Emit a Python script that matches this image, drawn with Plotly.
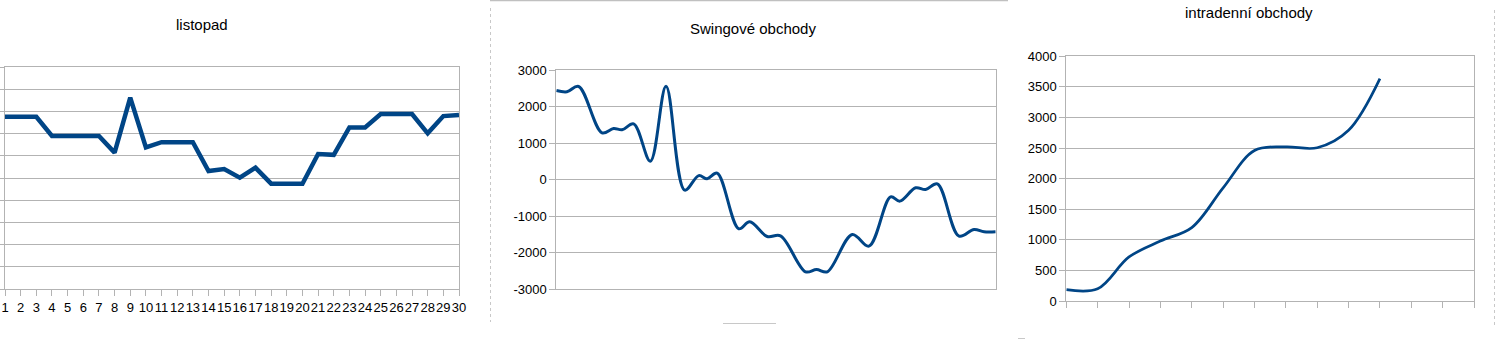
import plotly.graph_objects as go

# ---------------- data ----------------
# Panel 1: "listopad" (y axis labels are clipped in the source; values in grid units)
days = list(range(1, 31))
day_labels = [str(d) for d in days]
listopad_vals = [7.77, 7.77, 7.77, 6.90, 6.90, 6.90, 6.90, 6.15, 8.63, 6.39,
                 6.62, 6.62, 6.62, 5.32, 5.41, 5.02, 5.47, 4.75, 4.75, 4.75,
                 6.09, 6.05, 7.29, 7.29, 7.89, 7.89, 7.89, 7.02, 7.80, 7.85]

# Panel 2: "Swingové obchody"
swing_x = [0.0, 0.97, 2.03, 4.16, 5.22, 5.99, 7.04, 8.56, 9.99, 11.69,
           12.97, 13.73, 14.64, 16.61, 17.61, 19.2, 20.41, 22.69, 23.69, 24.67,
           26.94, 28.46, 30.43, 31.28, 32.71, 33.62, 34.69, 36.66, 38.03, 38.94, 40.0]
swing_vals = [2447, 2411, 2557, 1288, 1406, 1370, 1534, 511, 2566, -283,
              115, 27, 183, -1342, -1151, -1553, -1534, -2521, -2457, -2521,
              -1498, -1817, -466, -584, -219, -265, -110, -1543, -1361, -1425, -1425]
swing_ticks = [-3000, -2000, -1000, 0, 1000, 2000, 3000]
swing_ticktext = ["-3000", "-2000", "-1000", "0", "1000", "2000", "3000"]

# Panel 3: "intradenní obchody"
intra_cats = list(range(14))
intra_x = list(range(11))
intra_vals = [185, 200, 720, 980, 1200, 1850, 2460, 2520, 2505, 2790, 3635]
intra_ticks = [0, 500, 1000, 1500, 2000, 2500, 3000, 3500, 4000]
intra_ticktext = [str(v) for v in intra_ticks]

titles = ["listopad", "Swingové obchody", "intradenní obchody"]

# ---------------- style ----------------
W, H = 1500, 352
BLUE = "#004586"
GRID = "#b3b3b3"
TICKFONT = dict(family="Liberation Sans, Arial, sans-serif", size=13, color="#000000")
TITLEFONT = dict(family="Liberation Sans, Arial, sans-serif", size=15, color="#000000")


def px_x(x):
    return x / W


def px_y(y):
    return 1 - y / H


fig = go.Figure()

fig.add_trace(go.Scatter(x=days, y=listopad_vals, mode="lines",
                         line=dict(color=BLUE, width=4.5), xaxis="x", yaxis="y",
                         showlegend=False, hoverinfo="skip"))
fig.add_trace(go.Scatter(x=swing_x, y=swing_vals, mode="lines",
                         line=dict(color=BLUE, width=3, shape="spline", smoothing=1.0),
                         xaxis="x2", yaxis="y2", showlegend=False, hoverinfo="skip"))
fig.add_trace(go.Scatter(x=intra_x, y=intra_vals, mode="lines",
                         line=dict(color=BLUE, width=2.7, shape="spline", smoothing=1.0),
                         xaxis="x3", yaxis="y3", showlegend=False, hoverinfo="skip"))

common_axis = dict(showline=True, linecolor=GRID, linewidth=1, mirror=True, automargin=False,
                   zeroline=False, tickcolor=GRID, tickwidth=1, tickfont=TICKFONT, tickangle=0)

fig.update_layout(
    width=W, height=H,
    margin=dict(l=0, r=0, t=0, b=0, autoexpand=False),
    paper_bgcolor="white", plot_bgcolor="white",
    xaxis=dict(domain=[px_x(5), px_x(459)], range=[1, 30], anchor="y",
               tickmode="array", tickvals=days, ticktext=day_labels,
               ticks="outside", ticklen=6, showgrid=False, **common_axis),
    yaxis=dict(domain=[px_y(289), px_y(67.3)], range=[0, 10], anchor="x",
               tickmode="linear", tick0=0, dtick=1, showgrid=True, gridcolor=GRID,
               ticks="outside", ticklen=5, showticklabels=False, **common_axis),
    xaxis2=dict(domain=[px_x(556.3), px_x(995.7)], range=[0, 40], anchor="y2",
                showticklabels=False, ticks="", showgrid=False, **common_axis),
    yaxis2=dict(domain=[px_y(289.3), px_y(70.3)], range=[-3000, 3000], anchor="x2",
                tickmode="array", tickvals=swing_ticks, ticktext=swing_ticktext,
                showgrid=True, gridcolor=GRID, ticks="outside", ticklen=6, **common_axis),
    xaxis3=dict(domain=[px_x(1066.3), px_x(1474)], range=[0, 13], anchor="y3",
                tickmode="array", tickvals=intra_cats, showticklabels=False,
                ticks="outside", ticklen=6, showgrid=False, **common_axis),
    yaxis3=dict(domain=[px_y(301), px_y(56.3)], range=[0, 4000], anchor="x3",
                tickmode="array", tickvals=intra_ticks, ticktext=intra_ticktext,
                showgrid=True, gridcolor=GRID, ticks="outside", ticklen=6, **common_axis),
)

# titles
title_pos = [(201.5, 24.5), (752.8, 28), (1248.7, 12.5)]
for t, (tx, ty) in zip(titles, title_pos):
    fig.add_annotation(text=t, x=px_x(tx), y=px_y(ty), xref="paper", yref="paper",
                       xanchor="center", yanchor="middle", showarrow=False, font=TITLEFONT)

# faint frame remnants of the neighbouring chart objects
DOT = "#c8c8c8"
shapes = [
    dict(type="line", xref="paper", yref="paper", x0=px_x(490), x1=px_x(1008), y0=px_y(0.5), y1=px_y(0.5),
         line=dict(color="#c0c0c0", width=1.5)),
    dict(type="line", xref="paper", yref="paper", x0=px_x(490.5), x1=px_x(490.5), y0=px_y(8), y1=px_y(322),
         line=dict(color=DOT, width=1, dash="dot")),
    dict(type="line", xref="paper", yref="paper", x0=px_x(1494.5), x1=px_x(1494.5), y0=px_y(10), y1=px_y(325),
         line=dict(color=DOT, width=1, dash="dot")),
    dict(type="line", xref="paper", yref="paper", x0=px_x(723), x1=px_x(776), y0=px_y(323.5), y1=px_y(323.5),
         line=dict(color="#c8c8c8", width=1)),
    dict(type="line", xref="paper", yref="paper", x0=px_x(1018), x1=px_x(1025), y0=px_y(338.5), y1=px_y(338.5),
         line=dict(color="#c8c8c8", width=1)),
]
fig.update_layout(shapes=shapes)

fig.write_html("out.html")
